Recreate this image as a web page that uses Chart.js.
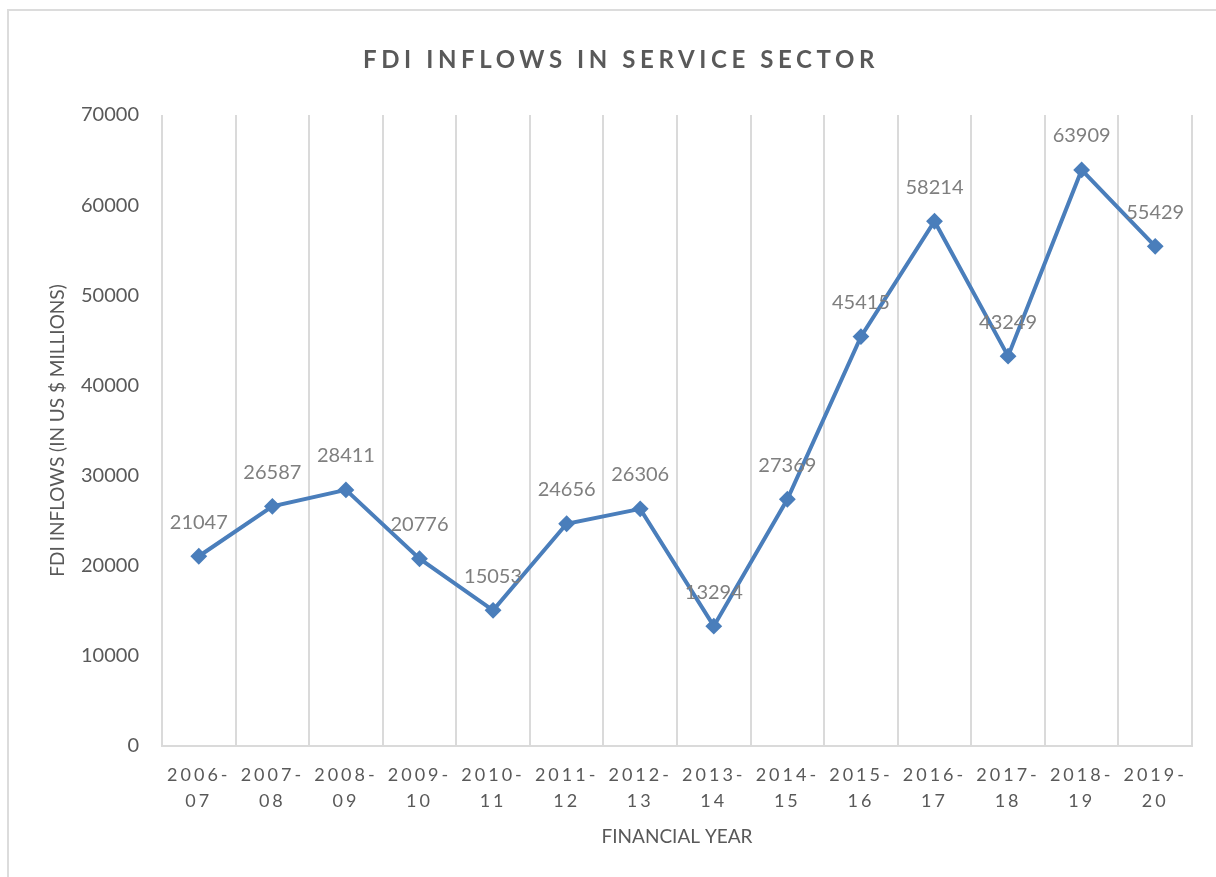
<!DOCTYPE html>
<html>
<head>
<meta charset="utf-8">
<title>FDI Inflows in Service Sector</title>
<script src="https://cdn.jsdelivr.net/npm/chart.js@4.4.1/dist/chart.umd.min.js"></script>
<style>
    html, body {
        margin: 0;
        padding: 0;
        background: #ffffff;
        overflow: hidden;
    }
    #frame {
        position: absolute;
        left: 7px;
        top: 9px;
        width: 1240px;
        height: 900px;
        border: 2px solid #dcdcdc;
    }
    #fdiChart {
        position: absolute;
        left: 0;
        top: 0;
    }
</style>
</head>
<body>
<div id="frame"></div>
<canvas id="fdiChart" width="1216" height="877"></canvas>
<script>
const years = [
    ["2006-", "07"], ["2007-", "08"], ["2008-", "09"], ["2009-", "10"],
    ["2010-", "11"], ["2011-", "12"], ["2012-", "13"], ["2013-", "14"],
    ["2014-", "15"], ["2015-", "16"], ["2016-", "17"], ["2017-", "18"],
    ["2018-", "19"], ["2019-", "20"]
];
const inflows = [21047, 26587, 28411, 20776, 15053, 24656, 26306, 13294, 27369, 45415, 58214, 43249, 63909, 55429];
const yTicks = [0, 10000, 20000, 30000, 40000, 50000, 60000, 70000];

const chartTitle = "FDI INFLOWS IN SERVICE SECTOR";
const xTitle = "FINANCIAL YEAR";
const yTitle = "FDI INFLOWS (IN US $ MILLIONS)";

const axisGrey = "#595959";
const gridGrey = "#dadada";
const lineBlue = "#4a7ebb";

document.addEventListener("DOMContentLoaded", () => {

    const canvas = document.getElementById("fdiChart");

    // value labels above each marker + spaced title
    const extras = {
        id: "extras",
        beforeDraw(chart) {
            const xs = chart.scales.x;
            if (!xs._spaced) {
                const orig = xs.drawLabels;
                xs.drawLabels = function (area) {
                    const c = this.ctx;
                    c.save();
                    c.letterSpacing = "3px";
                    orig.call(this, area);
                    c.restore();
                };
                xs._spaced = true;
            }
        },
        afterDatasetsDraw(chart) {
            const ctx = chart.ctx;
            const meta = chart.getDatasetMeta(0);
            ctx.save();
            ctx.font = "20px Lato";
            ctx.fillStyle = "#7f7f7f";
            ctx.textAlign = "center";
            ctx.textBaseline = "middle";
            meta.data.forEach((pt, i) => {
                ctx.fillText(String(inflows[i]), pt.x, pt.y - 34);
            });
            ctx.restore();
        },
        afterDraw(chart) {
            const ctx = chart.ctx;
            ctx.save();
            ctx.font = "bold 24px Lato";
            ctx.letterSpacing = "4.6px";
            ctx.fillStyle = axisGrey;
            ctx.textAlign = "center";
            ctx.textBaseline = "middle";
            ctx.fillText(chartTitle, 621, 60);
            ctx.restore();
        }
    };

    new Chart(canvas, {
        type: "line",
        data: {
            labels: years,
            datasets: [{
                label: "FDI inflows",
                data: inflows,
                borderColor: lineBlue,
                backgroundColor: lineBlue,
                borderWidth: 4,
                pointStyle: "rectRot",
                pointRadius: 7,
                pointBorderWidth: 2,
                pointBackgroundColor: lineBlue,
                pointBorderColor: lineBlue,
                tension: 0,
                fill: false
            }]
        },
        options: {
            responsive: false,
            animation: false,
            layout: {
                padding: { top: 115, right: 24, bottom: 0, left: 0 }
            },
            plugins: {
                legend: { display: false },
                tooltip: { enabled: false }
            },
            scales: {
                x: {
                    offset: true,
                    afterFit: (scale) => { scale.height = 131; },
                    grid: {
                        offset: true,
                        color: gridGrey,
                        lineWidth: 2,
                        drawTicks: false
                    },
                    border: { display: true, color: gridGrey, width: 2 },
                    ticks: {
                        color: axisGrey,
                        font: { family: "Lato", size: 18, lineHeight: 1.45 },
                        padding: 16,
                        maxRotation: 0,
                        autoSkip: false
                    },
                    title: {
                        display: true,
                        text: xTitle,
                        color: axisGrey,
                        font: { family: "Lato", size: 19 },
                        padding: { top: 0, bottom: 29 }
                    }
                },
                y: {
                    min: 0,
                    max: 70000,
                    afterFit: (scale) => { scale.width = 162; },
                    afterBuildTicks: (scale) => {
                        scale.ticks = yTicks.map(v => ({ value: v }));
                    },
                    grid: { display: false, drawTicks: false },
                    border: { display: false },
                    ticks: {
                        color: axisGrey,
                        font: { family: "Lato", size: 20 },
                        padding: 23,
                        callback: (value) => String(value)
                    },
                    title: {
                        display: true,
                        text: yTitle,
                        color: axisGrey,
                        font: { family: "Lato", size: 19 },
                        padding: { top: 46, bottom: 0 }
                    }
                }
            }
        },
        plugins: [extras]
    });
});
</script>
</body>
</html>
